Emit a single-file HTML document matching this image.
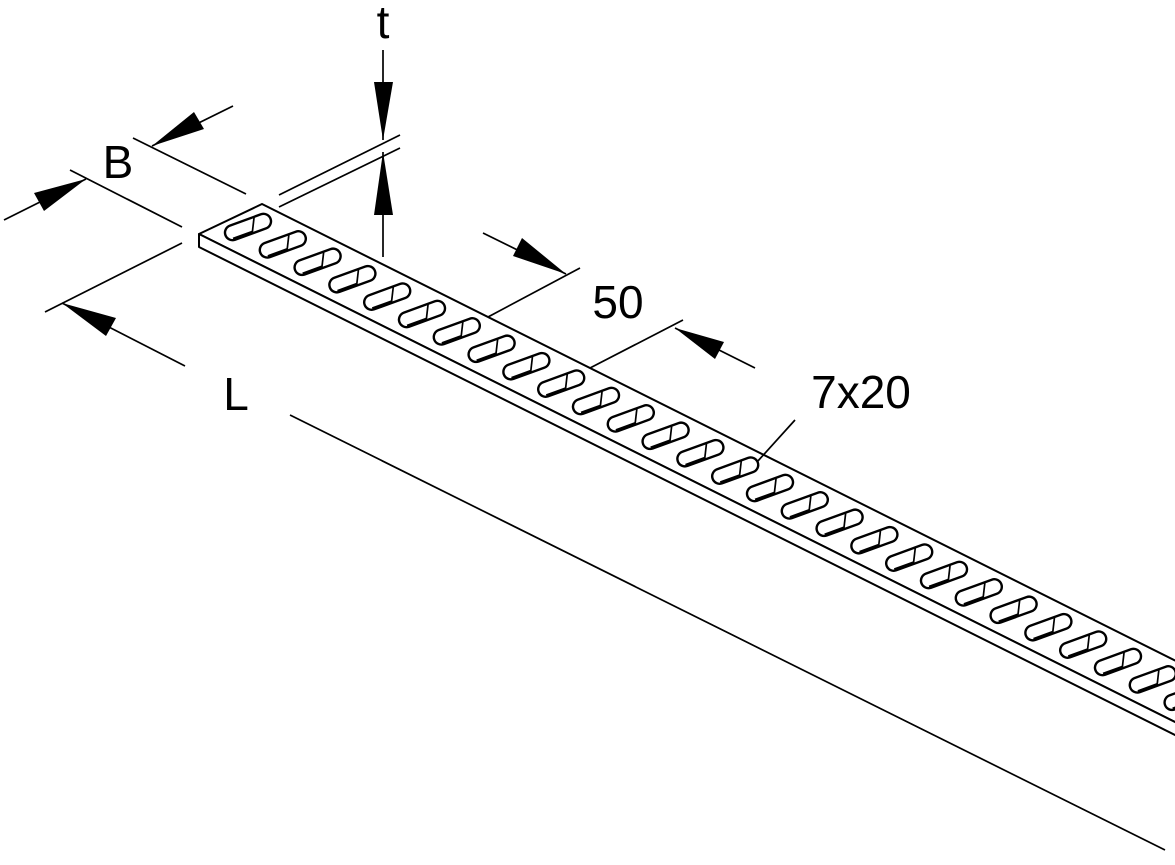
<!DOCTYPE html>
<html><head><meta charset="utf-8"><style>
html,body{margin:0;padding:0;background:#fff;}
svg{display:block}
text{font-family:"Liberation Sans",Arial,sans-serif;fill:#000}
</style></head><body>
<svg width="1175" height="865" viewBox="0 0 1175 865" xmlns="http://www.w3.org/2000/svg">
<defs>
<g id="slot">
<rect x="-24" y="-7.5" width="48" height="15" rx="7.5" fill="#fff" stroke="#000" stroke-width="2.4"/>
<line x1="9" y1="-7" x2="2" y2="7" stroke="#000" stroke-width="1.7"/>
<line x1="-18" y1="6" x2="3" y2="6" stroke="#000" stroke-width="2.4"/>
</g>
</defs>
<g stroke="#000" stroke-width="2" fill="none" stroke-linecap="round" stroke-linejoin="round">
<polygon points="199,234 262,204 1262,704 1199,734" fill="#fff"/>
<polygon points="199,234 1199,734 1199,747 199,247" fill="#fff"/>
</g>
<g>
<use href="#slot" transform="translate(248,227) rotate(-20)"/>
<use href="#slot" transform="translate(282.8,244.4) rotate(-20)"/>
<use href="#slot" transform="translate(317.6,261.8) rotate(-20)"/>
<use href="#slot" transform="translate(352.4,279.2) rotate(-20)"/>
<use href="#slot" transform="translate(387.2,296.6) rotate(-20)"/>
<use href="#slot" transform="translate(422,314) rotate(-20)"/>
<use href="#slot" transform="translate(456.8,331.4) rotate(-20)"/>
<use href="#slot" transform="translate(491.6,348.8) rotate(-20)"/>
<use href="#slot" transform="translate(526.4,366.2) rotate(-20)"/>
<use href="#slot" transform="translate(561.2,383.6) rotate(-20)"/>
<use href="#slot" transform="translate(596,401) rotate(-20)"/>
<use href="#slot" transform="translate(630.8,418.4) rotate(-20)"/>
<use href="#slot" transform="translate(665.6,435.8) rotate(-20)"/>
<use href="#slot" transform="translate(700.4,453.2) rotate(-20)"/>
<use href="#slot" transform="translate(735.2,470.6) rotate(-20)"/>
<use href="#slot" transform="translate(770,488) rotate(-20)"/>
<use href="#slot" transform="translate(804.8,505.4) rotate(-20)"/>
<use href="#slot" transform="translate(839.6,522.8) rotate(-20)"/>
<use href="#slot" transform="translate(874.4,540.2) rotate(-20)"/>
<use href="#slot" transform="translate(909.2,557.6) rotate(-20)"/>
<use href="#slot" transform="translate(944,575) rotate(-20)"/>
<use href="#slot" transform="translate(978.8,592.4) rotate(-20)"/>
<use href="#slot" transform="translate(1013.6,609.8) rotate(-20)"/>
<use href="#slot" transform="translate(1048.4,627.2) rotate(-20)"/>
<use href="#slot" transform="translate(1083.2,644.6) rotate(-20)"/>
<use href="#slot" transform="translate(1118,662) rotate(-20)"/>
<use href="#slot" transform="translate(1152.8,679.4) rotate(-20)"/>
<use href="#slot" transform="translate(1187.6,696.8) rotate(-20)"/>
</g>
<g stroke="#000" stroke-width="1.7" fill="none">
<line x1="383" y1="50" x2="383" y2="140"/>
<line x1="383" y1="152" x2="383" y2="257"/>
<line x1="279" y1="195" x2="400" y2="135"/>
<line x1="279" y1="207" x2="400" y2="148"/>
<line x1="70" y1="170" x2="182" y2="227"/>
<line x1="133" y1="138" x2="246" y2="194"/>
<line x1="4" y1="220" x2="86" y2="179"/>
<line x1="152" y1="146" x2="233" y2="106"/>
<line x1="45" y1="312" x2="182" y2="243"/>
<line x1="62" y1="303" x2="185" y2="366"/>
<line x1="290" y1="415" x2="1165" y2="850"/>
<line x1="483" y1="233" x2="566" y2="274"/>
<line x1="580" y1="268" x2="488" y2="317"/>
<line x1="683" y1="320" x2="590" y2="368"/>
<line x1="675" y1="328" x2="755" y2="368"/>
<line x1="795" y1="420" x2="757" y2="462"/>
</g>
<g fill="#000">
<polygon points="383,140 374,82 393,82"/>
<polygon points="383,152 374,215 393,215"/>
<polygon points="86,179 44,211 34,193"/>
<polygon points="152,146 204,129 194,112"/>
<polygon points="62,303 116,318 106,336"/>
<polygon points="566,274 513,256 522,238"/>
<polygon points="675,328 724,342 715,359"/>
</g>
<text x="383" y="38" font-size="46" text-anchor="middle">t</text>
<text x="118" y="178" font-size="46" text-anchor="middle">B</text>
<text x="236" y="410" font-size="46" text-anchor="middle">L</text>
<text x="618" y="318" font-size="46" text-anchor="middle">50</text>
<text x="861" y="408" font-size="46" text-anchor="middle">7x20</text>
</svg>
</body></html>
